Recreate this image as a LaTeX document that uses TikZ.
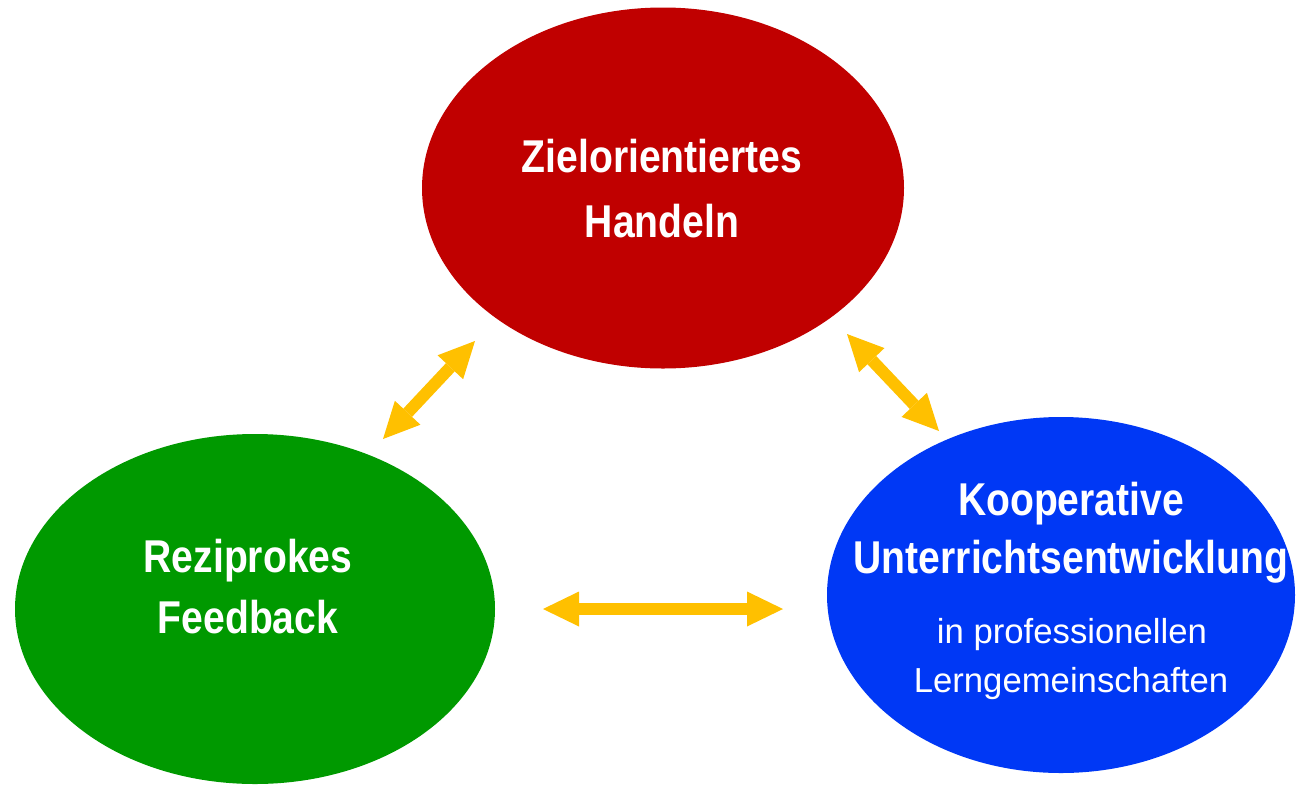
\documentclass[tikz,border=0pt]{standalone}
\usepackage{fontspec}
\setmainfont{Liberation Sans}
\newfontfamily\narrowbold[FakeStretch=0.85]{Liberation Sans Bold}
\usetikzlibrary{shapes.geometric,arrows.meta}
\definecolor{zred}{HTML}{C00000}
\definecolor{zgreen}{HTML}{009900}
\definecolor{zblue}{HTML}{0038F5}
\definecolor{zyellow}{HTML}{FFC000}
\tikzset{
  blob/.style={ellipse, draw=none, inner sep=0pt},
  boldtxt/.style={text=white, anchor=base, inner sep=0pt, font=\narrowbold\fontsize{46}{52}\selectfont},
  regtxt/.style={text=white, anchor=base, inner sep=0pt, font=\fontsize{34.7}{40}\selectfont},
  dblarrow/.style={draw=zyellow, line width=12pt,
    {Triangle[width=35pt,length=36pt,line width=0pt]}-{Triangle[width=35pt,length=36pt,line width=0pt]}}
}
\begin{document}
\begin{tikzpicture}[x=1pt,y=-1pt]
\useasboundingbox (0,0) rectangle (1296,785);
% ellipses
\node[blob, fill=zred, minimum width=482pt, minimum height=361pt] (ziel) at (663,188) {};
\node[blob, fill=zgreen, minimum width=480pt, minimum height=350pt] (rez) at (255,609) {};
\node[blob, fill=zblue, minimum width=468pt, minimum height=356pt] (koop) at (1061,595) {};
% texts
\node[boldtxt] (t1) at (662,172) {Zielorientiertes};
\node[boldtxt] (t2) at (662,237) {Handeln};
\node[boldtxt] (t3) at (248,572) {Reziprokes};
\node[boldtxt] (t4) at (248,633) {Feedback};
\node[boldtxt] (t5) at (1071,515) {Kooperative};
\node[boldtxt] (t6) at (1071,573) {Unterrichtsentwicklung};
\node[regtxt] (t7) at (1072,643) {in professionellen};
\node[regtxt] (t8) at (1071,692) {Lerngemeinschaften};
% arrow ends
\coordinate (a1) at (383,439);
\coordinate (a2) at (475,341);
\coordinate (b1) at (847,334);
\coordinate (b2) at (939,431);
\coordinate (c1) at (543,609);
\coordinate (c2) at (783,609);
\draw[dblarrow] (a1) -- (a2);
\draw[dblarrow] (b1) -- (b2);
\draw[dblarrow] (c1) -- (c2);
\end{tikzpicture}
\end{document}
